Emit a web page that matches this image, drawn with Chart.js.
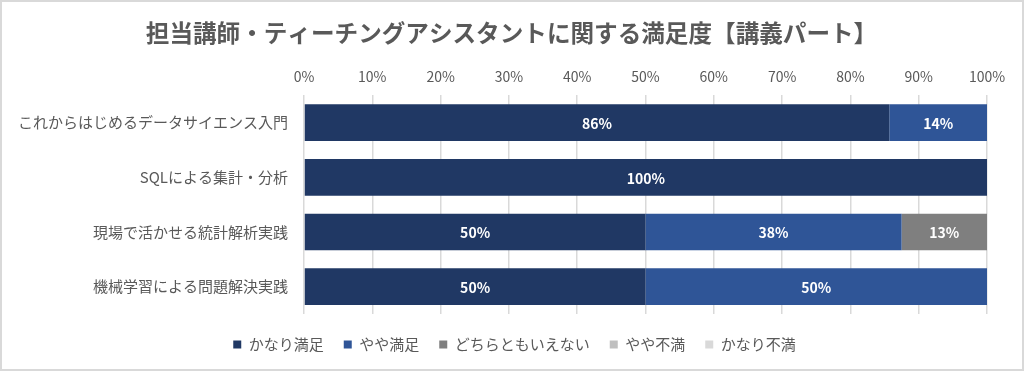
<!DOCTYPE html>
<html lang="ja">
<head>
<meta charset="UTF-8">
<title>担当講師・ティーチングアシスタントに関する満足度【講義パート】</title>
<script src="https://cdn.jsdelivr.net/npm/chart.js"></script>
<style>
  html, body { margin: 0; padding: 0; background: #fff; }
  .frame {
    width: 1024px; height: 371px; box-sizing: border-box;
    border: 2px solid #d9d9d9;
  }
  .frame canvas { display: block; }
</style>
</head>
<body>
<div class="frame">
  <canvas id="chart" width="1020" height="367"></canvas>
</div>
<script>
// データ
const courses = [
  'これからはじめるデータサイエンス入門',
  'SQLによる集計・分析',
  '現場で活かせる統計解析実践',
  '機械学習による問題解決実践'
];
const seriesNames = ['かなり満足', 'やや満足', 'どちらともいえない', 'やや不満', 'かなり不満'];
const veryGood = [85.7, 100, 50, 50];
const good = [14.3, 0, 37.5, 50];
const neutral = [0, 0, 12.5, 0];
const bad = [0, 0, 0, 0];
const veryBad = [0, 0, 0, 0];
const xTicks = [0, 10, 20, 30, 40, 50, 60, 70, 80, 90, 100];

const colors = ['#203864', '#2f5597', '#7f7f7f', '#bfbfbf', '#d9d9d9'];
const FONT = '"Noto Sans CJK JP", "Noto Sans", sans-serif';

// バーの中央に%を描く
const barLabels = {
  id: 'barLabels',
  afterDatasetsDraw(chart) {
    const ctx = chart.ctx;
    ctx.save();
    ctx.font = 'bold 14px ' + FONT;
    ctx.fillStyle = '#ffffff';
    ctx.textAlign = 'center';
    ctx.textBaseline = 'middle';
    chart.data.datasets.forEach((ds, i) => {
      const meta = chart.getDatasetMeta(i);
      meta.data.forEach((bar, j) => {
        const v = ds.data[j];
        if (!v) return;
        const cx = (bar.x + bar.base) / 2;
        ctx.fillText(Math.round(v) + '%', cx, bar.y + 1);
      });
    });
    ctx.restore();
  }
};

// タイトルと凡例の位置を微調整
const nudge = {
  id: 'nudge',
  afterLayout(chart) {
    if (chart.titleBlock) { chart.titleBlock.left += 13; chart.titleBlock.right += 13; }
    if (chart.legend) {
      chart.legend.left += 16; chart.legend.right += 16;
      chart.legend.top += 3; chart.legend.bottom += 3;
    }
  }
};

const allData = [veryGood, good, neutral, bad, veryBad];

new Chart(document.getElementById('chart'), {
  type: 'bar',
  data: {
    labels: courses,
    datasets: seriesNames.map((name, i) => ({
      label: name,
      data: allData[i],
      backgroundColor: colors[i],
      borderWidth: 0,
      barPercentage: 0.67,
      categoryPercentage: 1
    }))
  },
  options: {
    indexAxis: 'y',
    responsive: false,
    animation: false,
    layout: { padding: { top: 17, left: 8, right: 35, bottom: 10 } },
    scales: {
      x: {
        position: 'top',
        stacked: true,
        min: 0,
        max: 100,
        afterBuildTicks(scale) {
          scale.ticks = xTicks.map(v => ({ value: v }));
        },
        afterFit(scale) { scale.height = 48; },
        ticks: {
          callback: v => v + '%',
          color: '#595959',
          font: { family: FONT, size: 14 },
          padding: 10,
          maxRotation: 0
        },
        grid: { color: '#d9d9d9', lineWidth: 1.5, drawTicks: false },
        border: { display: false }
      },
      y: {
        stacked: true,
        afterFit(scale) { scale.width = 294; },
        ticks: {
          color: '#595959',
          font: { family: FONT, size: 15 },
          padding: 8
        },
        grid: { display: false },
        border: { display: false }
      }
    },
    plugins: {
      title: {
        display: true,
        text: '担当講師・ティーチングアシスタントに関する満足度【講義パート】',
        color: '#595959',
        font: { family: FONT, size: 23.6, weight: 'bold' },
        padding: { top: 0, bottom: 0 }
      },
      legend: {
        position: 'bottom',
        labels: {
          boxWidth: 8,
          boxHeight: 8,
          padding: 20,
          color: '#595959',
          font: { family: FONT, size: 15 }
        }
      },
      tooltip: { enabled: false }
    }
  },
  plugins: [barLabels, nudge]
});
</script>
</body>
</html>
